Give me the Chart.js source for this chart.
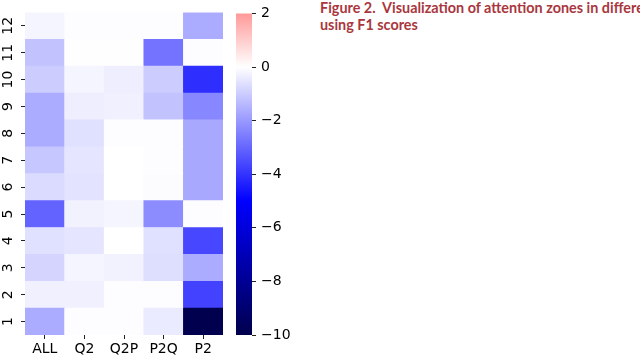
<!DOCTYPE html>
<html lang="en">
<head>
    <meta charset="UTF-8">
    <title>Attention zones heatmap</title>
    <script src="https://cdn.jsdelivr.net/npm/chart.js"></script>
    <style>
        body {
            margin: 0;
            padding: 0;
            background-color: #ffffff;
        }
        .figure {
            width: 640px;
            height: 360px;
            position: relative;
            overflow: hidden;
            background: #ffffff;
        }
        #heatChart {
            position: absolute;
            left: 0;
            top: 0;
        }
        #barChart {
            position: absolute;
            left: 230px;
            top: 0;
        }
        .caption {
            position: absolute;
            left: 320px;
            top: -1px;
            width: 400px;
            font-family: 'Lato', 'Open Sans', sans-serif;
            font-weight: 700;
            font-size: 14.4px;
            line-height: 17px;
            color: #a9373d;
            white-space: nowrap;
        }
    </style>
</head>
<body>
    <div class="figure">
        <canvas id="heatChart" width="223" height="360"></canvas>
        <canvas id="barChart" width="70" height="360"></canvas>
        <div class="caption">Figure 2.&nbsp; Visualization of attention zones in different<br>using F1 scores</div>
    </div>

    <script>
        // columns (x) and rows (y, 1 at the bottom)
        const columnLabels = ['ALL', 'Q2', 'Q2P', 'P2Q', 'P2'];
        const rowLabels = [1, 2, 3, 4, 5, 6, 7, 8, 9, 10, 11, 12];

        // one array per column, values for rows 1..12
        const valuesALL = [-1.65, -0.3, -0.85, -0.6, -3.05, -0.7, -1.1, -1.65, -1.65, -1.0, -1.2, -0.2];
        const valuesQ2  = [-0.03, -0.3, -0.2, -0.5, -0.25, -0.55, -0.5, -0.6, -0.33, -0.2, -0.02, -0.03];
        const valuesQ2P = [-0.03, -0.03, -0.25, 0, -0.2, 0, 0, -0.03, -0.3, -0.33, -0.02, -0.03];
        const valuesP2Q = [-0.4, -0.03, -0.65, -0.6, -2.25, -0.05, -0.03, -0.03, -1.2, -1.0, -2.75, -0.03];
        const valuesP2  = [-9.95, -3.7, -1.65, -3.6, -0.03, -1.7, -1.7, -1.7, -2.35, -4.1, -0.03, -1.65];
        const columnSeries = [valuesALL, valuesQ2, valuesQ2P, valuesP2Q, valuesP2];

        // colour bar
        const colorbarTicks = [-10, -8, -6, -4, -2, 0, 2];
        const colorMin = -10;
        const colorMax = 2;
        const colorCenter = 0;

        const FONT = 'DejaVu Sans';

        // matplotlib "seismic", centred on 0 (seaborn style: +-10 range)
        const seismicKnots = [
            [0.00, 0, 0, 0.3],
            [0.25, 0, 0, 1],
            [0.50, 1, 1, 1],
            [0.75, 1, 0, 0],
            [1.00, 0.5, 0, 0]
        ];
        const halfRange = Math.max(colorMax - colorCenter, colorCenter - colorMin);

        function seismic(t) {
            t = Math.min(1, Math.max(0, t));
            for (let i = 1; i < seismicKnots.length; i++) {
                const a = seismicKnots[i - 1], b = seismicKnots[i];
                if (t <= b[0]) {
                    const f = (t - a[0]) / (b[0] - a[0]);
                    const c = [1, 2, 3].map(k => Math.round(255 * (a[k] + (b[k] - a[k]) * f)));
                    return 'rgb(' + c.join(',') + ')';
                }
            }
            return 'rgb(128,0,0)';
        }
        function cellColor(v) {
            return seismic((v - (colorCenter - halfRange)) / (2 * halfRange));
        }
        const minus = v => String(v).replace('-', '\u2212');

        // Heatmap
        new Chart(document.getElementById('heatChart'), {
            type: 'bar',
            data: {
                labels: columnLabels,
                datasets: rowLabels.map((row, i) => ({
                    data: columnSeries.map(() => [row - 0.5, row + 0.5]),
                    backgroundColor: columnSeries.map(s => cellColor(s[i])),
                    borderWidth: 0,
                    grouped: false,
                    barPercentage: 1,
                    categoryPercentage: 1
                }))
            },
            options: {
                responsive: false,
                animation: false,
                layout: { padding: { top: 8, left: 0, right: 0, bottom: 0 } },
                plugins: { legend: { display: false }, tooltip: { enabled: false } },
                scales: {
                    x: {
                        grid: { display: true, drawOnChartArea: false, drawTicks: true, tickLength: 4, offset: false, color: '#222' },
                        border: { display: false },
                        ticks: { color: '#000', font: { family: FONT, size: 14 }, padding: 2, maxRotation: 0 },
                        afterFit: scale => { scale.height = 25; }
                    },
                    y: {
                        min: 0.5,
                        max: 12.5,
                        afterBuildTicks: scale => { scale.ticks = rowLabels.map(v => ({ value: v })); },
                        grid: { display: true, drawOnChartArea: false, drawTicks: true, tickLength: 4, color: '#222' },
                        border: { display: false },
                        ticks: {
                            color: '#000',
                            font: { family: FONT, size: 14 },
                            minRotation: 90,
                            maxRotation: 90,
                            crossAlign: 'center',
                            padding: 4
                        },
                        afterFit: scale => { scale.width = 25; }
                    }
                }
            }
        });

        // Colour bar
        new Chart(document.getElementById('barChart'), {
            type: 'bar',
            data: {
                labels: ['scale'],
                datasets: [{
                    data: [[colorMin, colorMax]],
                    backgroundColor: function(context) {
                        const chart = context.chart;
                        if (!chart.chartArea) return null;
                        const y = chart.scales.y;
                        const g = chart.ctx.createLinearGradient(0, y.getPixelForValue(colorMin), 0, y.getPixelForValue(colorMax));
                        const stops = [colorMin, -5, colorCenter, colorMax];
                        stops.forEach(v => g.addColorStop((v - colorMin) / (colorMax - colorMin), cellColor(v)));
                        return g;
                    },
                    borderWidth: 0,
                    barPercentage: 1,
                    categoryPercentage: 1
                }]
            },
            options: {
                responsive: false,
                animation: false,
                layout: { padding: { top: 8, left: 6, right: 0, bottom: 25 } },
                plugins: { legend: { display: false }, tooltip: { enabled: false } },
                scales: {
                    x: { display: false },
                    y: {
                        position: 'right',
                        min: colorMin,
                        max: colorMax,
                        afterBuildTicks: scale => { scale.ticks = colorbarTicks.map(v => ({ value: v })); },
                        grid: { display: true, drawOnChartArea: false, drawTicks: true, tickLength: 4, color: '#222' },
                        border: { display: false },
                        ticks: {
                            color: '#000',
                            font: { family: FONT, size: 14 },
                            padding: 5,
                            callback: v => minus(v)
                        },
                        afterFit: scale => { scale.width = 48; }
                    }
                }
            }
        });
    </script>
</body>
</html>
